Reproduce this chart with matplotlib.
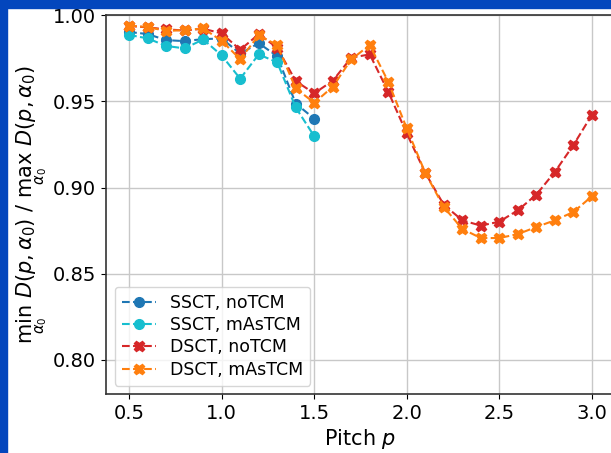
import matplotlib
matplotlib.use("Agg")
import matplotlib.pyplot as plt
from matplotlib.patches import Rectangle

# Data
pitch_ss = [0.5, 0.6, 0.7, 0.8, 0.9, 1.0, 1.1, 1.2, 1.3, 1.4, 1.5]
pitch_ds = [0.5, 0.6, 0.7, 0.8, 0.9, 1.0, 1.1, 1.2, 1.3, 1.4, 1.5, 1.6, 1.7,
            1.8, 1.9, 2.0, 2.1, 2.2, 2.3, 2.4, 2.5, 2.6, 2.7, 2.8, 2.9, 3.0]

ssct_notcm = [0.9903, 0.9891, 0.9856, 0.9850, 0.9862, 0.9865, 0.9778, 0.9838,
              0.9763, 0.9488, 0.9400]
ssct_mastcm = [0.9886, 0.9866, 0.9822, 0.9808, 0.9860, 0.9767, 0.9632, 0.9773,
               0.9727, 0.9465, 0.9298]
dsct_notcm = [0.9938, 0.9930, 0.9918, 0.9912, 0.9922, 0.9895, 0.9800, 0.9890,
              0.9812, 0.9618, 0.9547, 0.9620, 0.9754, 0.9773, 0.9556, 0.9314,
              0.9085, 0.8900, 0.8810, 0.8779, 0.8802, 0.8868, 0.8959, 0.9091,
              0.9246, 0.9422]
dsct_mastcm = [0.9940, 0.9932, 0.9909, 0.9914, 0.9924, 0.9852, 0.9745, 0.9884,
               0.9827, 0.9576, 0.9492, 0.9585, 0.9744, 0.9827, 0.9614, 0.9343,
               0.9085, 0.8887, 0.8760, 0.8707, 0.8707, 0.8730, 0.8771, 0.8810,
               0.8858, 0.8949]

labels = ["SSCT, noTCM", "SSCT, mAsTCM", "DSCT, noTCM", "DSCT, mAsTCM"]
yticks = [0.80, 0.85, 0.90, 0.95, 1.00]
xticks = [0.5, 1.0, 1.5, 2.0, 2.5, 3.0]

fig = plt.figure(figsize=(6.11, 4.53), dpi=100)
fig.patch.set_facecolor("white")
ax = fig.add_axes([106 / 611, (453 - 394.3) / 453, 509 / 611, 379 / 453])

ax.plot(pitch_ss, ssct_notcm, "--o", color="#1f77b4", lw=1.5, ms=7, label=labels[0])
ax.plot(pitch_ss, ssct_mastcm, "--o", color="#17becf", lw=1.5, ms=7, label=labels[1])
ax.plot(pitch_ds, dsct_notcm, "--X", color="#d62728", lw=1.5, ms=7.5, label=labels[2])
ax.plot(pitch_ds, dsct_mastcm, "--X", color="#ff7f0e", lw=1.5, ms=7.5, label=labels[3])

ax.set_xlim(0.375, 3.125)
ax.set_ylim(0.78, 1.0)
ax.set_yticks(yticks)
ax.set_xticks(xticks)
ax.tick_params(labelsize=14)
ax.grid(True, color="#c8c8c8", lw=1.0)
ax.set_axisbelow(True)
for s in ax.spines.values():
    s.set_color("#333333")
    s.set_linewidth(1.2)

ax.set_xlabel("Pitch $p$", fontsize=15, labelpad=3)
ax.set_ylabel(r"$\min_{\alpha_0}\ D(p, \alpha_0)$ / $\max_{\alpha_0}\ D(p, \alpha_0)$",
              fontsize=15, labelpad=3)
ax.legend(loc="lower left", fontsize=12.5, borderaxespad=0.5, labelspacing=0.25)

# blue frame at top and left
fig.patches.append(Rectangle((0, 1 - 8 / 453), 1, 8 / 453, transform=fig.transFigure,
                             color="#0346bd", zorder=10))
fig.patches.append(Rectangle((0, 0), 7 / 611, 1, transform=fig.transFigure,
                             color="#0346bd", zorder=10))

fig.savefig("out.png", dpi=100)
